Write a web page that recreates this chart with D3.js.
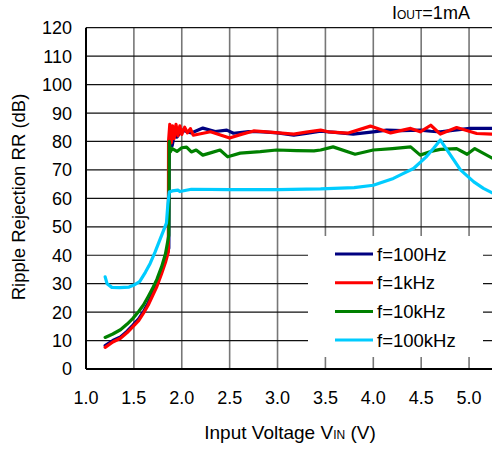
<!DOCTYPE html>
<meta charset="utf-8">
<script src="https://cdn.jsdelivr.net/npm/d3@7"></script>
<style>
body { margin: 0; background: #fff; }
text { font-family: "Liberation Sans", Arial, sans-serif; fill: #000; }
.line { fill: none; stroke-width: 3.2px; stroke-linejoin: round; stroke-linecap: round; }
</style>
<body>
<script>

// data
var xTicks = [1.0, 1.5, 2.0, 2.5, 3.0, 3.5, 4.0, 4.5, 5.0];
var yTicks = [0, 10, 20, 30, 40, 50, 60, 70, 80, 90, 100, 110, 120];
var seriesNames = ["f=100Hz", "f=1kHz", "f=10kHz", "f=100kHz"];
var seriesColors = ["#000080", "#ff0000", "#008000", "#00ccff"];

var vin100Hz = [1.2, 1.28, 1.36, 1.43, 1.49, 1.55, 1.6, 1.65, 1.69, 1.74, 1.79, 1.83, 1.865, 1.87, 1.875,
  1.9, 1.92, 1.95, 2.0, 2.1, 2.22, 2.35, 2.47, 2.54, 2.7, 2.85, 3.0, 3.17, 3.3, 3.45, 3.6, 3.79, 4.0, 4.14,
  4.3, 4.49, 4.6, 4.7, 4.85, 5.01, 5.25];
var rr100Hz = [8.2, 10, 11.3, 13.3, 15.4, 17.6, 20.2, 23.2, 26.2, 29.8, 34.5, 38.5, 42.5, 80, 81,
  78.5, 82, 81.5, 84, 83, 84.7, 83.5, 84, 82.9, 83.5, 83.4, 83, 82.2, 82.8, 83.6, 83.2, 82.6, 83.4, 84,
  83.8, 84, 83.6, 83.4, 84, 84.6, 84.6];

var vin1kHz = [1.2, 1.28, 1.36, 1.43, 1.49, 1.55, 1.6, 1.65, 1.69, 1.74, 1.79, 1.83, 1.86, 1.862, 1.875,
  1.89, 1.905, 1.92, 1.94, 1.96, 1.98, 2.0, 2.03, 2.06, 2.09, 2.12, 2.3, 2.5, 2.62, 2.75, 2.95,
  3.17, 3.3, 3.45, 3.53, 3.73, 3.97, 4.18, 4.39, 4.49, 4.6, 4.7, 4.87, 5.08, 5.25];
var rr1kHz = [7.6, 9.5, 10.8, 12.8, 14.9, 17, 19.6, 22.5, 25.4, 29, 33.6, 37.5, 41.2, 80, 86,
  79.5, 85.5, 81, 86, 82, 85.5, 82.5, 85, 83, 84.5, 82.2, 83.4, 81.2, 82.5, 83.7, 83.2,
  82.6, 83.3, 84, 83.4, 82.9, 85.4, 83, 84.6, 83.4, 85.7, 82.6, 84.9, 82.8, 82.6];

var vin10kHz = [1.2, 1.28, 1.36, 1.43, 1.49, 1.55, 1.6, 1.65, 1.69, 1.74, 1.79, 1.83, 1.865, 1.87, 1.88,
  1.9, 1.95, 2.0, 2.05, 2.1, 2.15, 2.22, 2.3, 2.4, 2.48, 2.61, 2.82, 2.99, 3.2, 3.38, 3.45, 3.58, 3.81,
  4.0, 4.2, 4.39, 4.49, 4.6, 4.7, 4.87, 4.98, 5.06, 5.25];
var rr10kHz = [11.1, 12.3, 13.8, 15.8, 17.8, 20.2, 22.5, 25.5, 28, 31.5, 36, 40.5, 47, 80, 76.3,
  77.5, 76.5, 77.8, 78, 76.3, 77, 75.2, 76, 77, 74.6, 75.9, 76.4, 77, 76.8, 76.7, 77, 78.1, 75.5,
  77, 77.5, 78.1, 75.2, 76.5, 77.2, 77.5, 75.5, 77.5, 74];

var vin100kHz = [1.2, 1.22, 1.27, 1.35, 1.45, 1.5, 1.56, 1.62, 1.67, 1.72, 1.77, 1.84, 1.855, 1.87, 1.9,
  1.96, 1.98, 2.1, 2.5, 3.0, 3.45, 3.8, 4.0, 4.21, 4.3, 4.42, 4.55, 4.63, 4.7, 4.78, 4.91, 5.05, 5.15, 5.25];
var rr100kHz = [32.4, 30, 28.7, 28.6, 28.8, 29.5, 30.7, 34, 37.1, 41, 45.3, 51.3, 58, 62.2, 62.6,
  62.9, 62.4, 63.2, 63.1, 63.1, 63.3, 63.8, 64.6, 67, 68.5, 70.5, 74.5, 77.6, 80.5, 76.5, 70, 65.8, 63.5, 61.8];

var series = [
  {vin: vin100Hz, rr: rr100Hz},
  {vin: vin1kHz, rr: rr1kHz},
  {vin: vin10kHz, rr: rr10kHz},
  {vin: vin100kHz, rr: rr100kHz}
];

var width = 492, height = 450;

var x = d3.scaleLinear().domain([1, 5.25]).range([86, 493]);
var y = d3.scaleLinear().domain([0, 120]).range([369, 27.7]);

var svg = d3.select("body").append("svg")
    .attr("width", width)
    .attr("height", height);

// grid
svg.append("g").selectAll("line")
  .data(xTicks.slice(1))
  .enter().append("line")
  .attr("x1", d => x(d)).attr("x2", d => x(d))
  .attr("y1", y(120)).attr("y2", y(0))
  .attr("stroke", "#777").attr("stroke-width", 1.6);

svg.append("g").selectAll("line")
  .data(yTicks.slice(1))
  .enter().append("line")
  .attr("x1", x(1)).attr("x2", width)
  .attr("y1", d => y(d)).attr("y2", d => y(d))
  .attr("stroke", "#111").attr("stroke-width", 1.2);

// axes lines
svg.append("line").attr("x1", x(1)).attr("x2", x(1)).attr("y1", y(120)).attr("y2", y(0))
  .attr("stroke", "#000").attr("stroke-width", 2);
svg.append("line").attr("x1", x(1)).attr("x2", width).attr("y1", y(0)).attr("y2", y(0))
  .attr("stroke", "#000").attr("stroke-width", 2);

// tick labels
svg.append("g").selectAll("text")
  .data(yTicks)
  .enter().append("text")
  .attr("x", 72).attr("y", d => y(d))
  .attr("dy", "0.36em")
  .attr("text-anchor", "end")
  .style("font-size", "18px")
  .text(d => d);

svg.append("g").selectAll("text")
  .data(xTicks)
  .enter().append("text")
  .attr("x", d => x(d)).attr("y", 404)
  .attr("text-anchor", "middle")
  .style("font-size", "18px")
  .text(d => d.toFixed(1));

// curves
var line = d3.line()
  .x(d => x(d[0]))
  .y(d => y(d[1]));

series.forEach(function(s, i) {
  var pts = s.vin.map((v, j) => [v, s.rr[j]]);
  svg.append("path")
    .datum(pts)
    .attr("class", "line")
    .attr("stroke", seriesColors[i])
    .attr("d", line);
});

// legend
svg.append("rect")
  .attr("x", 308).attr("y", 236).attr("width", 175).attr("height", 121)
  .attr("fill", "#fff");

var legend = svg.append("g").selectAll("g")
  .data(seriesNames)
  .enter().append("g")
  .attr("transform", (d, i) => "translate(0," + (254 + i * 28.7) + ")");

legend.append("line")
  .attr("x1", 335).attr("x2", 373)
  .attr("stroke", (d, i) => seriesColors[i])
  .attr("stroke-width", 3);

legend.append("text")
  .attr("x", 377).attr("dy", "0.36em")
  .style("font-size", "18.5px")
  .text(d => d);

// titles
var xt = svg.append("text")
  .attr("x", 290).attr("y", 439)
  .attr("text-anchor", "middle")
  .style("font-size", "19px");
xt.append("tspan").text("Input Voltage V");
xt.append("tspan").style("font-size", "12px").text("IN");
xt.append("tspan").text(" (V)");

svg.append("text")
  .attr("transform", "translate(25,197) rotate(-90)")
  .attr("text-anchor", "middle")
  .style("font-size", "18.5px")
  .text("Ripple Rejection RR (dB)");

var it = svg.append("text")
  .attr("x", 392).attr("y", 19)
  .style("font-size", "18px");
it.append("tspan").text("I");
it.append("tspan").style("font-size", "12px").text("OUT");
it.append("tspan").text("=1mA");

</script>
</body>
